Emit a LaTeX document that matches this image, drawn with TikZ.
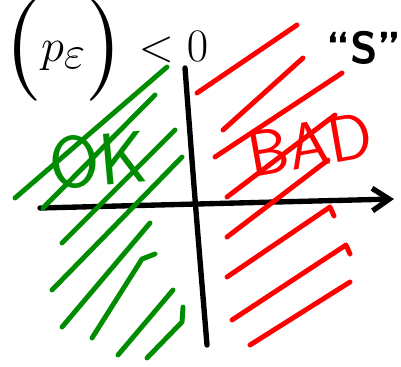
\documentclass[tikz,border=0pt]{standalone}
\usepackage{xcolor}
\usepackage{amsmath, amssymb}
\usepackage{tikz}
\usetikzlibrary{arrows.meta}

\definecolor{okgreen}{RGB}{0,140,0}
\definecolor{badred}{RGB}{255,0,0}

\begin{document}
\begin{tikzpicture}[x=0.025cm, y=-0.025cm,
    axis/.style={line width=3.8pt, line cap=round, line join=round},
    hatch/.style={line width=3.5pt, line cap=round, line join=round}]
        \useasboundingbox (0,0) rectangle (401,367);
        % ejes
        \coordinate (xl) at (40,208);
        \coordinate (xr) at (394,199);
        \coordinate (yt) at (185,68);
        \coordinate (yb) at (207,345);
        \draw[axis, -{Straight Barb[length=12pt, width=16pt, line width=3.8pt]}] (xl) -- (xr);
        \draw[axis] (yt) .. controls (195,200) .. (yb);
        % rayado verde (lado izquierdo)
        \foreach \xa/\ya/\xb/\yb in {167/67/15/198, 155/95/43/208, 175/130/62/243, 182/157/52/290,
                           150/223/62/327, 173/290/118/355}
            \draw[hatch, okgreen] (\xa,\ya) -- (\xb,\yb);
        \draw[hatch, okgreen] (155,254) -- (142,259) -- (92,338);
        \draw[hatch, okgreen] (183,307) -- (182,322) -- (147,358);
        % rayado rojo (lado derecho)
        \foreach \xa/\ya/\xb/\yb in {297/25/197/93, 303/58/223/130, 342/73/215/157, 335/115/227/197,
                           328/160/227/237, 350/282/250/345}
            \draw[hatch, badred] (\xa,\ya) -- (\xb,\yb);
        \draw[hatch, badred] (334,216) -- (330,207) -- (227,277);
        \draw[hatch, badred] (350,254) -- (346,245) -- (232,320);
        % textos
        \node[scale=1.33] (cond) at (105,50) {\fontsize{46}{46}\selectfont $\biggl(p_\varepsilon\biggr) < 0$};
        \node (ess) at (364,48) {\fontsize{32}{32}\selectfont\sffamily\bfseries ``S''};
        \node[okgreen, rotate=5] (ok) at (98,160) {\fontsize{52}{52}\selectfont\sffamily OK};
        \node[badred, rotate=10] (bad) at (310,145) {\fontsize{46}{46}\selectfont\sffamily BAD};
\end{tikzpicture}
\end{document}
